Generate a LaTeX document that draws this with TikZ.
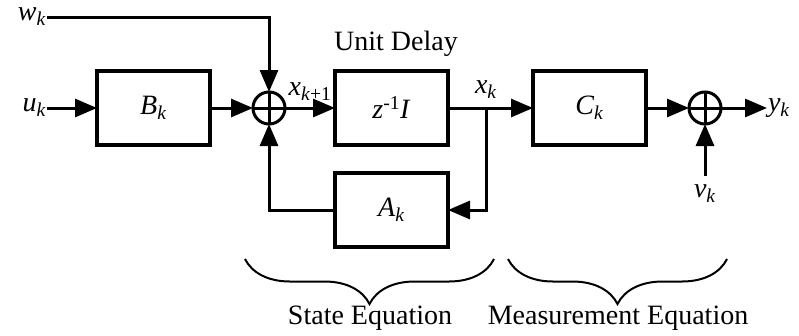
\documentclass[tikz,border=0pt]{standalone}
\usepackage{fontspec}
\setmainfont{Liberation Serif}
\usepackage{tikz}
\usetikzlibrary{arrows.meta,positioning,calc,decorations.pathreplacing}

\newcommand{\varsub}[2]{\textit{#1}\textsubscript{\textit{#2}}}

\begin{document}
\begin{tikzpicture}[x=1pt, y=-1pt, node distance=40pt, auto,
    font=\fontsize{28}{32}\selectfont,
    block/.style={rectangle, draw, line width=3.5pt, minimum width=113pt, minimum height=74pt, inner sep=0pt, outer sep=0pt},
    sumnode/.style={circle, draw, line width=3pt, minimum size=32pt, inner sep=0pt, outer sep=0pt,
        path picture={\draw[line width=3pt] (path picture bounding box.north) -- (path picture bounding box.south)
            (path picture bounding box.west) -- (path picture bounding box.east);}},
    lbl/.style={inner sep=1pt, outer sep=0pt},
    line/.style={draw, line width=3pt, -{Triangle[length=22pt,width=18pt]}},
    wire/.style={draw, line width=3pt},
    bracestyle/.style={draw, line width=2pt, decorate, decoration={brace, mirror, amplitude=45pt}}]

    \useasboundingbox (0,0) rectangle (799,335);

    \node [block] (B) at (153.5,108) {\varsub{B}{k}};
    \node [sumnode, right=43pt of B] (s1) {};
    \node [block, right=50pt of s1] (delay) {\textit{z}\textsuperscript{-1}\textit{I}};
    \node [block, below=28pt of delay] (A) {\varsub{A}{k}};
    \node [block, right=85pt of delay] (C) {\varsub{C}{k}};
    \node [sumnode, right=43pt of C] (s2) {};

    \node [lbl, left=50pt of B] (uk) {\varsub{u}{k}};
    \node [lbl] (wk) at (32,17) {\varsub{w}{k}};
    \node [lbl, right=46pt of s2] (yk) {\varsub{y}{k}};
    \node [lbl, below=60pt of s2] (vk) {\varsub{v}{k}};
    \node [lbl] (unitdelay) at (396,44) {Unit Delay};
    \node [lbl] (xk1) at (310,92) {\textit{x}\textsubscript{\textit{k}+1}};
    \node [lbl] (xk) at (486,90) {\varsub{x}{k}};
    \coordinate (branch) at (486,108);

    \draw [line] (uk) -- (B);
    \draw [line] (B) -- (s1);
    \draw [line] (wk.east) -| (s1.north);
    \draw [line] (s1) -- (delay);
    \draw [wire] (delay.east) -- (branch);
    \draw [line] (branch) -- (C);
    \draw [line] (branch) |- (A.east);
    \draw [line] (A.west) -| (s1.south);
    \draw [line] (C) -- (s2);
    \draw [line] (s2) -- (yk);
    \draw [line] ([yshift=8pt]vk.north) -- (s2);

    % equation braces
    \coordinate (stateL) at (245,259);
    \coordinate (stateR) at (494,259);
    \coordinate (measL) at (508,259);
    \coordinate (measR) at (727,259);
    \draw [bracestyle] (stateL) -- (stateR);
    \draw [bracestyle] (measL) -- (measR);
    \node [lbl] (stateeq) at (370,318) {State Equation};
    \node [lbl] (measeq) at (618,318) {Measurement Equation};
\end{tikzpicture}
\end{document}
